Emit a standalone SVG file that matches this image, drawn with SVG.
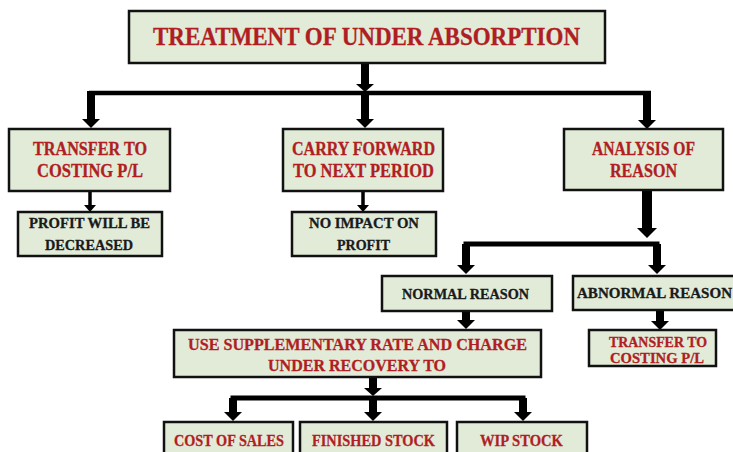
<svg xmlns="http://www.w3.org/2000/svg" width="733" height="452" viewBox="0 0 733 452">
<style>
.box{fill:#E1EBD8;stroke:#111;stroke-width:2.5}
.t{font-family:"Liberation Serif","Times New Roman",serif;font-weight:bold;text-anchor:middle}
.red{fill:#B01E23;stroke:#B01E23;stroke-width:0.3}
.blk{fill:#1a1a1a;stroke:#1a1a1a;stroke-width:0.3}
.ln{stroke:#000;fill:none}
.hd{fill:#000}
</style>
<rect width="733" height="452" fill="#fff"/>
<g id="connectors">
  <line class="ln" x1="365" y1="63" x2="365" y2="84" stroke-width="8"/>
  <polygon class="hd" points="356,84 374,84 365,92"/>
  <line class="ln" x1="89" y1="93" x2="651" y2="93" stroke-width="4.5"/>
  <line class="ln" x1="91" y1="91" x2="91" y2="119" stroke-width="8"/>
  <polygon class="hd" points="82,119 100,119 91,128"/>
  <line class="ln" x1="365" y1="93" x2="365" y2="119" stroke-width="8"/>
  <polygon class="hd" points="356,119 374,119 365,128"/>
  <line class="ln" x1="647" y1="91" x2="647" y2="120" stroke-width="8"/>
  <polygon class="hd" points="638,120 656,120 647,129"/>
  <line class="ln" x1="90" y1="191" x2="90" y2="205" stroke-width="3.5"/>
  <polygon class="hd" points="84,205 96,205 90,212"/>
  <line class="ln" x1="363" y1="191" x2="363" y2="205" stroke-width="3.5"/>
  <polygon class="hd" points="357,205 369,205 363,212"/>
  <line class="ln" x1="647" y1="190" x2="647" y2="228" stroke-width="10"/>
  <polygon class="hd" points="637,228 657,228 647,238"/>
  <polyline class="ln" points="466,266 466,244 657,244 657,266" stroke-width="5"/>
  <line class="ln" x1="466" y1="244" x2="466" y2="265" stroke-width="8"/>
  <line class="ln" x1="657" y1="244" x2="657" y2="265" stroke-width="8"/>
  <polygon class="hd" points="457,265 475,265 466,274"/>
  <polygon class="hd" points="648,265 666,265 657,274"/>
  <line class="ln" x1="466" y1="311" x2="466" y2="320" stroke-width="8"/>
  <polygon class="hd" points="457,320 475,320 466,329"/>
  <line class="ln" x1="660" y1="310" x2="660" y2="321" stroke-width="8"/>
  <polygon class="hd" points="651,321 669,321 660,330"/>
  <line class="ln" x1="373" y1="377" x2="373" y2="388" stroke-width="8"/>
  <polygon class="hd" points="364,388 382,388 373,396"/>
  <polyline class="ln" points="233,412 233,398 523,398 523,412" stroke-width="5"/>
  <line class="ln" x1="233" y1="398" x2="233" y2="412" stroke-width="8"/>
  <line class="ln" x1="373" y1="396" x2="373" y2="412" stroke-width="8"/>
  <line class="ln" x1="523" y1="398" x2="523" y2="412" stroke-width="8"/>
  <polygon class="hd" points="224,412 242,412 233,421"/>
  <polygon class="hd" points="364,412 382,412 373,421"/>
  <polygon class="hd" points="514,412 532,412 523,421"/>
</g>
<g id="title">
  <rect class="box" x="129" y="11" width="476" height="52"/>
  <text class="t red" x="366.5" y="45" font-size="25" textLength="427" lengthAdjust="spacingAndGlyphs">TREATMENT OF UNDER ABSORPTION</text>
</g>
<g id="transfer1">
  <rect class="box" x="9" y="129" width="161" height="62"/>
  <text class="t red" x="90" y="155" font-size="18" textLength="114" lengthAdjust="spacingAndGlyphs">TRANSFER TO</text>
  <text class="t red" x="90" y="177" font-size="18" textLength="106" lengthAdjust="spacingAndGlyphs">COSTING P/L</text>
</g>
<g id="profit">
  <rect class="box" x="18" y="212" width="144" height="44"/>
  <text class="t blk" x="89.5" y="228" font-size="15" textLength="121" lengthAdjust="spacingAndGlyphs">PROFIT WILL BE</text>
  <text class="t blk" x="89" y="250" font-size="15" textLength="88" lengthAdjust="spacingAndGlyphs">DECREASED</text>
</g>
<g id="carry">
  <rect class="box" x="283" y="129" width="160" height="62"/>
  <text class="t red" x="363.5" y="155" font-size="18" textLength="143" lengthAdjust="spacingAndGlyphs">CARRY FORWARD</text>
  <text class="t red" x="363.5" y="177" font-size="18" textLength="141" lengthAdjust="spacingAndGlyphs">TO NEXT PERIOD</text>
</g>
<g id="noimpact">
  <rect class="box" x="292" y="212" width="144" height="44"/>
  <text class="t blk" x="364" y="228" font-size="15" textLength="110" lengthAdjust="spacingAndGlyphs">NO IMPACT ON</text>
  <text class="t blk" x="363.5" y="250" font-size="15" textLength="53" lengthAdjust="spacingAndGlyphs">PROFIT</text>
</g>
<g id="analysis">
  <rect class="box" x="564" y="129" width="159" height="61"/>
  <text class="t red" x="643.5" y="155" font-size="18" textLength="103" lengthAdjust="spacingAndGlyphs">ANALYSIS OF</text>
  <text class="t red" x="643.5" y="177" font-size="18" textLength="67" lengthAdjust="spacingAndGlyphs">REASON</text>
</g>
<g id="normal">
  <rect class="box" x="382" y="276" width="170" height="35"/>
  <text class="t blk" x="465.5" y="299" font-size="15" textLength="127" lengthAdjust="spacingAndGlyphs">NORMAL REASON</text>
</g>
<g id="abnormal">
  <rect class="box" x="573" y="276" width="170" height="34"/>
  <text class="t blk" x="654.5" y="298" font-size="15" textLength="155" lengthAdjust="spacingAndGlyphs">ABNORMAL REASON</text>
</g>
<g id="transfer2">
  <rect class="box" x="589" y="330" width="127" height="36"/>
  <text class="t red" x="658" y="347" font-size="14.5" textLength="98" lengthAdjust="spacingAndGlyphs">TRANSFER TO</text>
  <text class="t red" x="657" y="363" font-size="14.5" textLength="94" lengthAdjust="spacingAndGlyphs">COSTING P/L</text>
</g>
<g id="supplementary">
  <rect class="box" x="174" y="330" width="367" height="47"/>
  <text class="t red" x="357.5" y="350" font-size="17" textLength="339" lengthAdjust="spacingAndGlyphs">USE SUPPLEMENTARY RATE AND CHARGE</text>
  <text class="t red" x="357" y="371" font-size="17" textLength="178" lengthAdjust="spacingAndGlyphs">UNDER RECOVERY TO</text>
</g>
<g id="costofsales">
  <rect class="box" x="164" y="422" width="129" height="40"/>
  <text class="t red" x="229" y="446" font-size="17" textLength="110" lengthAdjust="spacingAndGlyphs">COST OF SALES</text>
</g>
<g id="finished">
  <rect class="box" x="300" y="422" width="147" height="40"/>
  <text class="t red" x="373.5" y="446" font-size="17" textLength="123" lengthAdjust="spacingAndGlyphs">FINISHED STOCK</text>
</g>
<g id="wip">
  <rect class="box" x="457" y="422" width="130" height="40"/>
  <text class="t red" x="521.5" y="446" font-size="17" textLength="83" lengthAdjust="spacingAndGlyphs">WIP STOCK</text>
</g>
</svg>
